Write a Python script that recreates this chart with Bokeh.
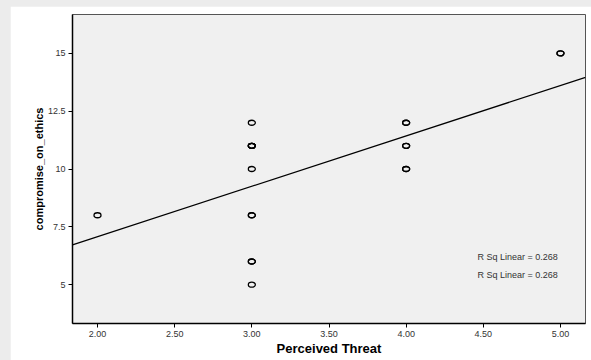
from bokeh.plotting import figure
from bokeh.layouts import column
from bokeh.models import FixedTicker, NumeralTickFormatter, ColumnDataSource, Range1d
from bokeh.embed import file_html
from bokeh.resources import INLINE

# Data (duplicates produce the heavier-looking markers)
threat = [2, 3, 3, 3, 3, 3, 3, 3, 3, 3, 3, 3, 4, 4, 4, 4, 4, 4, 5, 5]
ethics = [8, 12, 11, 11, 11, 10, 8, 8, 6, 6, 5, 11, 12, 12, 11, 11, 10, 10, 15, 15]

# Fit line
fit_intercept = 2.71
fit_slope = 2.18
r_sq_label = "R Sq Linear = 0.268"

x_ticks = [2.0, 2.5, 3.0, 3.5, 4.0, 4.5, 5.0]
y_ticks = [5, 7.5, 10, 12.5, 15]

x_lo, x_hi = 1.838, 5.162
y_lo, y_hi = 3.32, 16.68

p = figure(width=581, height=354, output_backend="svg", toolbar_location=None,
           x_range=Range1d(x_lo, x_hi), y_range=Range1d(y_lo, y_hi),
           min_border_left=62, min_border_top=8, min_border_right=6, min_border_bottom=37)

p.background_fill_color = "#f0f0f0"
p.border_fill_color = "white"
p.outline_line_color = "#555555"
p.outline_line_width = 1
p.grid.visible = False

font = "Liberation Sans"
for ax in (p.xaxis[0], p.yaxis[0]):
    ax.axis_line_color = "black"
    ax.axis_line_width = 1.5
    ax.major_tick_line_color = "black"
    ax.major_tick_line_width = 1
    ax.major_tick_in = 0
    ax.major_tick_out = 4
    ax.minor_tick_line_color = None
    ax.major_label_text_font = font
    ax.major_label_text_font_size = "9px"
    ax.major_label_text_color = "#333333"
    ax.axis_label_text_font = font
    ax.axis_label_text_font_style = "bold"
    ax.axis_label_text_color = "black"

p.xaxis.ticker = FixedTicker(ticks=x_ticks)
p.xaxis.formatter = NumeralTickFormatter(format="0.00")
p.xaxis.axis_label = "Perceived Threat"
p.xaxis.axis_label_text_font_size = "13px"
p.xaxis.major_label_standoff = 3
p.xaxis.axis_label_standoff = 1

p.yaxis.ticker = FixedTicker(ticks=y_ticks)
p.yaxis.formatter = NumeralTickFormatter(format="0.[0]")
p.yaxis.axis_label = "compromise_on_ethics"
p.yaxis.axis_label_text_font_size = "11px"
p.yaxis.major_label_standoff = 3
p.yaxis.axis_label_standoff = 0

# fit line
lx = [x_lo, x_hi]
ly = [fit_intercept + fit_slope * v for v in lx]
p.line(lx, ly, line_color="black", line_width=1.2)

src = ColumnDataSource(dict(x=threat, y=ethics))
p.ellipse("x", "y", source=src, width=7, height=5, width_units="screen", height_units="screen",
          fill_color=None, line_color="black", line_width=1.3)

p.text(x=[4.462, 4.462], y=[6.21, 5.43], text=[r_sq_label, r_sq_label],
       text_font_size="9px", text_color="#333333", text_align="left",
       text_baseline="middle", text_font={"value": font})

layout = column(p, styles={"background-color": "#ececec", "padding-left": "10px", "padding-top": "6px"})

open("out.html", "w").write(file_html(layout, INLINE))
